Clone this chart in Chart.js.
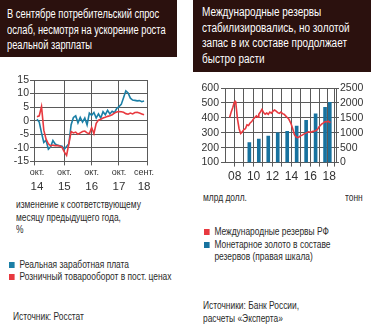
<!DOCTYPE html>
<html>
<head>
<meta charset="utf-8">
<script src="https://cdn.jsdelivr.net/npm/chart.js@4.4.1/dist/chart.umd.min.js"></script>
<style>
  body { margin: 0; background: #fff; }
  #page { position: relative; width: 371px; height: 326px; overflow: hidden;
          font-family: "Liberation Sans", Arial, sans-serif; color: #2a2a2a; }
  .hdr { position: absolute; top: 0; background: #2b110e; box-sizing: border-box; }
  .hdr div { color: #fff; font-size: 12.5px; line-height: 15.5px; white-space: nowrap;
             transform-origin: 0 0; }
  .t { position: absolute; font-size: 10.5px; line-height: 12.7px; white-space: nowrap;
       transform: scaleX(0.8); transform-origin: 0 0; }
  .sq { display: inline-block; width: 7px; height: 6px; margin-right: 6px; }
  canvas { position: absolute; }
</style>
</head>
<body>
<div id="page">
  <div class="hdr" style="left:0;width:177px;height:57px;padding:7px 0 0 7px;"><div style="transform:scaleX(0.745)">В сентябре потребительский спрос<br>ослаб, несмотря на ускорение роста<br>реальной зарплаты</div></div>
  <div class="hdr" style="left:193px;width:178px;height:72px;padding:5px 0 0 9px;"><div style="transform:scaleX(0.8)">Международные резервы<br>стабилизировались, но золотой<br>запас в их составе продолжает<br>быстро расти</div></div>

  <canvas id="c1" width="160" height="124" style="left:0;top:70px;"></canvas>
  <canvas id="c2" width="186" height="112" style="left:185px;top:75px;"></canvas>

  <div class="t" style="left:16px;top:198px;">изменение к соответствующему<br>месяцу предыдущего года,<br>%</div>
  <div class="t" style="left:9px;top:258px;line-height:12px;"><span class="sq" style="background:#1b7fa6"></span>Реальная заработная плата<br><span class="sq" style="background:#e8393f"></span>Розничный товарооборот в пост. ценах</div>
  <div class="t" style="left:13px;top:310px;">Источник: Росстат</div>

  <div class="t" style="left:203px;top:191px;">млрд долл.</div>
  <div class="t" style="left:345px;top:191px;">тонн</div>
  <div class="t" style="left:204px;top:225px;line-height:12.5px;"><span class="sq" style="background:#e8393f"></span>Международные резервы РФ<br><span class="sq" style="background:#17729f"></span>Монетарное золото в составе<br><span style="padding-left:13px">резервов (правая шкала)</span></div>
  <div class="t" style="left:203px;top:299px;">Источники: Банк России,<br>расчеты «Эксперта»</div>
</div>

<script>
// left chart: monthly, Oct 2014 .. Sep 2018, % y/y
const realWage = [0.5, -0.5, -4.5, -8, -7.2, -10.5, -9.6, -7.3, -8.6, -9.0, -9.2, -9.4,
                  -10.5, -9.5, -8.5, -1.5, 1.2, 1.8, -0.8, 1.2, -0.5, 1.0, -1.5, 2.8,
                  2.0, 3.0, 1.0, 2.5, 1.0, 3.3, 2.2, 3.8, 2.5, 3.5, 3.0, 4.5,
                  5.2, 6.0, 8.5, 11.0, 10.2, 8.3, 7.6, 7.5, 7.3, 7.4, 7.0, 7.3];
const retail = [1.5, 1.8, 5.2, -3.5, -6.8, -8.5, -9.3, -9.0, -9.2, -9.2, -9.3, -9.8,
                -11.5, -12.8, -8.5, -4.0, -4.5, -4.2, -5.0, -4.5, -4.0, -3.8, -4.5, -4.8,
                -2.5, -4.8, -1.0, 0.2, 0.5, 1.0, 1.3, 1.6, 1.8, 2.2, 2.8, 3.2,
                3.4, 3.3, 3.1, 2.6, 2.4, 2.8, 2.5, 3.0, 3.1, 2.8, 2.5, 2.2];
const leftTickPos = [0, 12, 24, 36, 47];
const leftTickMonth = ['окт.', 'окт.', 'окт.', 'окт.', 'сент.'];
const leftTickYear = ['14', '15', '16', '17', '18'];

// right chart
const reserveMonths = ['2008-01','2008-03','2008-05','2008-07','2008-08','2008-09','2008-11',
  '2009-01','2009-03','2009-05','2009-07','2009-09','2009-11',
  '2010-01','2010-03','2010-05','2010-07','2010-09','2010-11',
  '2011-01','2011-02','2011-04','2011-06','2011-08','2011-10','2011-12',
  '2012-02','2012-04','2012-06','2012-08','2012-10','2012-12',
  '2013-02','2013-04','2013-06','2013-08','2013-10','2013-12',
  '2014-02','2014-04','2014-05','2014-07','2014-09','2014-11',
  '2015-01','2015-03','2015-05','2015-07','2015-09','2015-11',
  '2016-01','2016-03','2016-05','2016-07','2016-09','2016-11',
  '2017-01','2017-03','2017-05','2017-06','2017-08','2017-10','2017-12',
  '2018-02','2018-04','2018-06','2018-08','2018-09'];
const reserveValues = [402, 440, 470, 505, 510, 490, 391,
  327, 295, 306, 321, 327, 353,
  349, 366, 375, 391, 402, 413,
  405, 424, 439, 456, 435, 424, 432,
  424, 439, 432, 445, 452, 445,
  435, 430, 439, 428, 424, 413,
  402, 392, 381, 359, 327, 289,
  274, 267, 272, 280, 284, 291,
  296, 301, 306, 304, 306, 310,
  312, 317, 327, 338, 349, 359, 366,
  375, 372, 377, 370, 368];
const goldMonths = ['2010-02','2011-02','2012-02','2013-02','2014-02','2015-02','2016-02','2017-02','2018-02','2018-08'];
const goldTonnes = [670, 790, 890, 1000, 1045, 1220, 1420, 1635, 1850, 2020];
const rightYears = [2008, 2009, 2010, 2011, 2012, 2013, 2014, 2015, 2016, 2017, 2018];

const BLUE = '#1b7fa6', RED = '#e8393f', BAR = '#17729f', GRID = '#5a5a5a', TXT = '#333';
Chart.defaults.font.family = '"Liberation Sans", Arial, sans-serif';
Chart.defaults.color = TXT;

function toYear(s) {
  const [y, m] = s.split('-').map(Number);
  return y + (m - 1) / 12;
}

const xMin1 = -1.3, xMax1 = 48.3;

new Chart(document.getElementById('c1'), {
  type: 'line',
  data: {
    datasets: [
      { label: 'Розничный товарооборот в пост. ценах', data: retail.map((v, i) => ({ x: i, y: v })),
        borderColor: RED, borderWidth: 1.6, pointRadius: 0 },
      { label: 'Реальная заработная плата', data: realWage.map((v, i) => ({ x: i, y: v })),
        borderColor: BLUE, borderWidth: 1.6, pointRadius: 0 }
    ]
  },
  options: {
    responsive: false, animation: false,
    layout: { padding: { top: 10, right: 13, left: 0, bottom: 0 } },
    plugins: { legend: { display: false }, tooltip: { enabled: false } },
    scales: {
      x: {
        type: 'linear', min: xMin1, max: xMax1, weight: 0,
        afterBuildTicks: s => { s.ticks = [xMin1, ...leftTickPos, xMax1].map(v => ({ value: v })); },
        ticks: { autoSkip: false, maxRotation: 0, padding: 2, font: { size: 9 },
                 callback: v => { const k = leftTickPos.indexOf(v); return k < 0 ? '' : leftTickMonth[k]; } },
        grid: { tickLength: 4, color: c => (c.tick && (c.tick.value === 0 || c.tick.value === 47)) ? 'rgba(0,0,0,0)' : GRID },
        border: { color: GRID }
      },
      x2: {
        type: 'linear', min: xMin1, max: xMax1, position: 'bottom', weight: 1,
        afterBuildTicks: s => { s.ticks = leftTickPos.map(v => ({ value: v })); },
        ticks: { autoSkip: false, maxRotation: 0, padding: 0, font: { size: 11.5 },
                 callback: v => leftTickYear[leftTickPos.indexOf(v)] },
        grid: { display: false, drawTicks: false },
        border: { display: false }
      },
      y: {
        min: -15, max: 15,
        afterFit: s => { s.width = 34; },
        ticks: { stepSize: 5, autoSkip: false, padding: 1, font: { size: 10.5 } },
        grid: { color: GRID, tickLength: 4 },
        border: { color: GRID }
      }
    }
  }
});

new Chart(document.getElementById('c2'), {
  data: {
    datasets: [
      { type: 'line', label: 'Международные резервы РФ', yAxisID: 'y', order: 0,
        data: reserveMonths.map((m, i) => ({ x: toYear(m), y: reserveValues[i] })),
        borderColor: RED, borderWidth: 1.6, pointRadius: 0 },
      { type: 'bar', label: 'Монетарное золото в составе резервов (правая шкала)', yAxisID: 'y1', order: 1,
        data: goldMonths.map((m, i) => ({ x: toYear(m), y: goldTonnes[i] })),
        backgroundColor: BAR, barThickness: 3 }
    ]
  },
  options: {
    responsive: false, animation: false,
    layout: { padding: { top: 13, right: 0, left: 0, bottom: 0 } },
    plugins: { legend: { display: false }, tooltip: { enabled: false } },
    scales: {
      x: {
        type: 'linear', min: 2008, max: 2018.75,
        afterBuildTicks: s => { s.ticks = [...rightYears, 2018.75].map(v => ({ value: v })); },
        ticks: { autoSkip: false, maxRotation: 0, padding: 3, labelOffset: 5, font: { size: 12 },
                 callback: v => (Number.isInteger(v) && v % 2 === 0) ? String(v % 100).padStart(2, '0') : '' },
        grid: { color: GRID, tickLength: 4 },
        border: { color: GRID }
      },
      y: {
        position: 'left', min: 100, max: 600,
        afterFit: s => { s.width = 40; },
        ticks: { stepSize: 100, autoSkip: false, padding: 2, font: { size: 10.5 } },
        grid: { color: GRID, tickLength: 4 },
        border: { color: GRID }
      },
      y1: {
        position: 'right', min: 0, max: 2500,
        afterFit: s => { s.width = 35; },
        ticks: { stepSize: 500, autoSkip: false, padding: 1, font: { size: 10.5 }, callback: v => String(v) },
        grid: { drawOnChartArea: false, color: GRID, tickLength: 3 },
        border: { color: GRID }
      }
    }
  }
});
</script>
</body>
</html>
